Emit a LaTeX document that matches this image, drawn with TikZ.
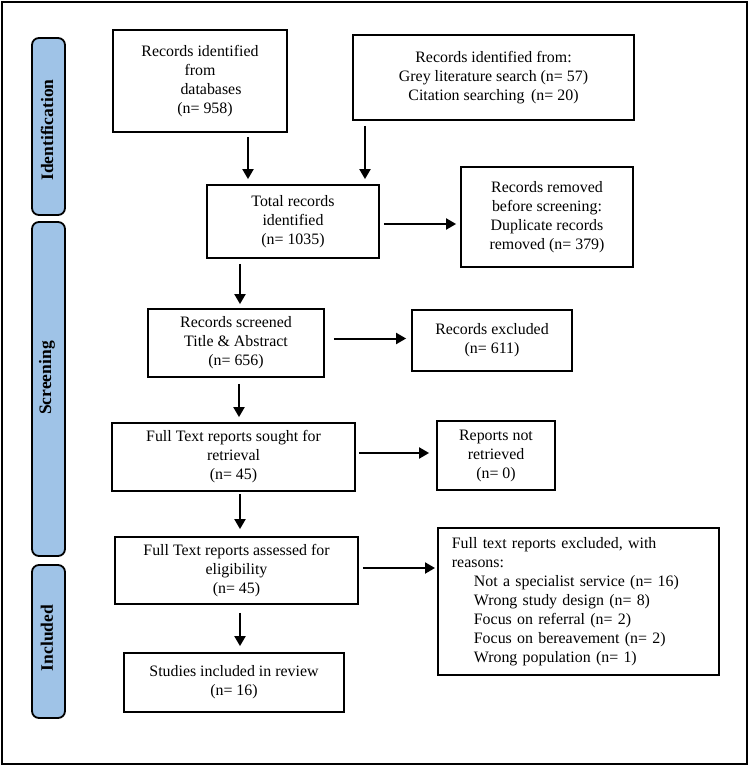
\documentclass[tikz,border=0pt]{standalone}
\usepackage{fontspec}
\setmainfont{Liberation Serif}
\usetikzlibrary{arrows.meta}
\definecolor{barblue}{HTML}{9FC3E7}
\begin{document}
\begin{tikzpicture}[x=1pt,y=-1pt,
 box/.style={draw=black,line width=1.8pt,align=center,inner sep=0pt,font=\fontsize{15.9}{19}\selectfont},
 bar/.style={draw=black,line width=1.8pt,fill=barblue,rounded corners=7pt,inner sep=0pt},
 barlabel/.style={rotate=90,font=\fontsize{17.5}{20}\selectfont\bfseries,inner sep=0pt},
 arr/.style={line width=2pt,-{Triangle[length=10pt,width=11pt]}}]
\useasboundingbox (0,0) rectangle (750,766);
\node[draw=black,line width=2.4pt,minimum width=745,minimum height=762,inner sep=0pt] (frame) at (374.5,383) {};

% side bars
\node[bar,minimum width=33,minimum height=177] (idbar) at (48.5,126.5) {};
\node[barlabel] (idlab) at (47,130) {Identification};
\node[bar,minimum width=33,minimum height=334] (scbar) at (48.5,389) {};
\node[barlabel] (sclab) at (47,378) {Screening};
\node[bar,minimum width=33,minimum height=153] (inbar) at (48.5,641.5) {};
\node[barlabel] (inlab) at (47,638) {Included};

% boxes
\node[box,minimum width=174,minimum height=102] (db) at (200,81)
 {Records identified\\from\\\hspace*{22pt}databases\\\hspace*{10pt}(n= 958)};
\node[box,minimum width=281,minimum height=85] (grey) at (493.5,77.5)
 {Records identified from:\\Grey literature search (n= 57)\\Citation searching\, (n= 20)};
\node[box,minimum width=172,minimum height=73] (total) at (293,221.5)
 {Total records\\identified\\(n= 1035)};
\node[box,minimum width=172,minimum height=100] (removed) at (547,217)
 {Records removed\\before screening:\\Duplicate records\\removed (n= 379)};
\node[box,minimum width=176,minimum height=68] (screened) at (236,343)
 {Records screened\\Title \& Abstract\\(n= 656)};
\node[box,minimum width=160,minimum height=61] (excluded) at (492,340.5)
 {Records excluded\\(n= 611)};
\node[box,minimum width=243,minimum height=68] (sought) at (233.5,457)
 {Full Text reports sought for\\retrieval\\(n= 45)};
\node[box,minimum width=118,minimum height=69] (notret) at (496,455.5)
 {Reports not\\retrieved\\(n= 0)};
\node[box,minimum width=243,minimum height=67] (assessed) at (236.5,570.5)
 {Full Text reports assessed for\\eligibility\\(n= 45)};
\node[box,minimum width=220,minimum height=59] (studies) at (234,682.5)
 {Studies included in review\\(n= 16)};
\node[box,align=left,anchor=west,inner xsep=14pt,text width=253pt,minimum height=147] (ftexcl) at (437,601.5)
 {Full text reports excluded, with\\reasons:\\
 \hspace*{22pt}Not a specialist service (n= 16)\\
 \hspace*{22pt}Wrong study design (n= 8)\\
 \hspace*{22pt}Focus on referral (n= 2)\\
 \hspace*{22pt}Focus on bereavement (n= 2)\\
 \hspace*{22pt}Wrong population (n= 1)};

% arrow columns / rows
\coordinate (c1) at (248,0);
\coordinate (c2) at (365,0);
\coordinate (c3) at (240,0);
\coordinate (c4) at (239,0);
\coordinate (r1) at (0,224);
\coordinate (r2) at (0,338.5);
\coordinate (r3) at (0,453);
\coordinate (r4) at (0,568);

\draw[arr,shorten <=4pt,shorten >=5pt] (db.south -| c1) -- (total.north -| c1);
\draw[arr,shorten <=5pt,shorten >=5pt] (grey.south -| c2) -- (total.north -| c2);
\draw[arr,shorten <=4pt,shorten >=4pt] (total.east |- r1) -- (removed.west |- r1);
\draw[arr,shorten <=5pt,shorten >=4pt] (total.south -| c3) -- (screened.north -| c3);
\draw[arr,shorten <=9pt,shorten >=5pt] (screened.east |- r2) -- (excluded.west |- r2);
\draw[arr,shorten <=6pt,shorten >=5pt] (screened.south -| c4) -- (sought.north -| c4);
\draw[arr,shorten <=3pt,shorten >=7pt] (sought.east |- r3) -- (notret.west |- r3);
\draw[arr,shorten <=2pt,shorten >=7pt] (sought.south -| c3) -- (assessed.north -| c3);
\draw[arr,shorten <=4pt,shorten >=2pt] (assessed.east |- r4) -- (ftexcl.west |- r4);
\draw[arr,shorten <=8pt,shorten >=6pt] (assessed.south -| c3) -- (studies.north -| c3);
\end{tikzpicture}
\end{document}
